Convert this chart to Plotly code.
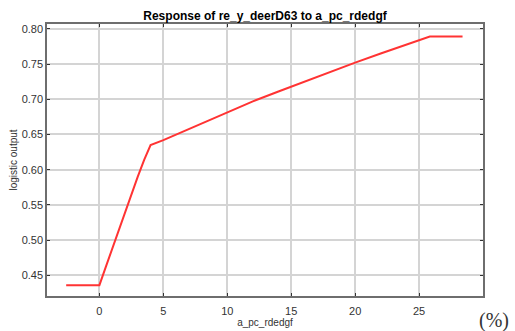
import plotly.graph_objects as go

# Response curve of the logistic model output to a_pc_rdedgf
x_vals = [-2.6, 0.0, 0.5, 1.0, 1.5, 2.0, 2.5, 3.0, 3.5, 4.0, 5.0, 6.0,
          8.0, 10.0, 12.0, 14.0, 16.0, 18.0, 20.0, 22.0, 24.0, 25.84, 28.4]
y_vals = [0.436, 0.436, 0.462, 0.488, 0.513, 0.541, 0.566, 0.590, 0.614, 0.635,
          0.642, 0.650, 0.666, 0.682, 0.697, 0.711, 0.725, 0.739,
          0.752, 0.765, 0.777, 0.789, 0.789]

x_ticks = [0, 5, 10, 15, 20, 25]
y_ticks = [0.45, 0.50, 0.55, 0.60, 0.65, 0.70, 0.75, 0.80]

font_family = "Liberation Sans, Arial, sans-serif"

fig = go.Figure()
fig.add_trace(go.Scatter(
    x=x_vals, y=y_vals, mode="lines",
    line=dict(color="#ff3333", width=2),
    showlegend=False,
))

axis_common = dict(
    showgrid=True, gridcolor="#d4d4d4", gridwidth=1.5,
    showline=True, linecolor="#6e6e6e", linewidth=1.5, mirror="ticks",
    ticks="inside", ticklen=3, tickcolor="#333333", tickwidth=1,
    zeroline=False, automargin=False,
    tickfont=dict(family=font_family, size=11, color="#333333"),
)

fig.update_layout(
    width=515, height=331,
    margin=dict(l=47, r=32, t=24, b=35),
    paper_bgcolor="white", plot_bgcolor="white",
    title=dict(
        text="<b>Response of re_y_deerD63 to a_pc_rdedgf</b>",
        x=0.5, xanchor="center", xref="paper",
        y=1 - 16 / 331, yanchor="middle",
        font=dict(family=font_family, size=12, color="black"),
    ),
    xaxis=dict(
        range=[-4.1, 30.0], tickvals=x_ticks,
        ticktext=[str(v) for v in x_ticks],
        ticklabelstandoff=4,
        title=dict(text="a_pc_rdedgf", standoff=3,
                   font=dict(family=font_family, size=10, color="#333333")),
        **axis_common,
    ),
    yaxis=dict(
        range=[0.4206, 0.8068], tickvals=y_ticks,
        ticktext=[f"{v:.2f}" for v in y_ticks],
        title=dict(text="logistic output", standoff=2,
                   font=dict(family=font_family, size=10, color="#333333")),
        **axis_common,
    ),
    annotations=[dict(
        text="(%)", xref="paper", yref="paper",
        x=1.0 + 11 / 436, y=-(320 - 296) / 272, xanchor="center", yanchor="middle",
        showarrow=False,
        font=dict(family="Liberation Serif, Times New Roman, serif", size=20, color="#333333"),
    )],
)

fig.write_html("out.html")
